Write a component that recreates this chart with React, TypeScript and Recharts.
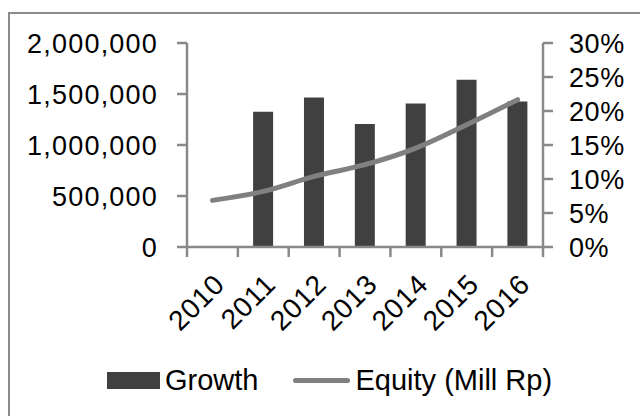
import { ComposedChart, Bar, Line, XAxis, YAxis, Legend } from 'recharts';

// Years on the category axis
const years = ['2010', '2011', '2012', '2013', '2014', '2015', '2016'];
// Growth (%) - bars, right axis
const growthPct = [null, 19.9, 22.0, 18.1, 21.1, 24.6, 21.4];
// Equity (Mill Rp) - line, left axis
const equityMillRp = [457000, 545000, 692000, 807000, 970000, 1199000, 1444000];

const leftTicks = [0, 500000, 1000000, 1500000, 2000000];
const rightTicks = [0, 5, 10, 15, 20, 25, 30];

const data = years.map((year, i) => ({
  year,
  growth: growthPct[i],
  equity: equityMillRp[i],
}));

const FONT = '"Liberation Sans", Arial, Helvetica, sans-serif';
const AXIS_GRAY = '#898989';
const BAR_COLOR = '#404040';
const LINE_COLOR = '#808080';

// Excel-style category ticks: marks sit between the years, labels turned 45 degrees
const YearTick = (props: any) => {
  const { x, y, payload, index, visibleTicksCount } = props;
  const half = typeof payload?.offset === 'number' && payload.offset > 0 ? payload.offset : 25.5;
  const ax = x + 14;
  const ay = y + 29;
  return (
    <g>
      <line x1={x - half} x2={x - half} y1={y - 10} y2={y} stroke={AXIS_GRAY} strokeWidth={2.5} />
      {index === visibleTicksCount - 1 && (
        <line x1={x + half} x2={x + half} y1={y - 10} y2={y} stroke={AXIS_GRAY} strokeWidth={2.5} />
      )}
      <text
        x={ax}
        y={ay}
        transform={`rotate(-45, ${ax}, ${ay})`}
        textAnchor="end"
        fill="#000"
        fontSize={28}
        letterSpacing={0.8}
        fontFamily={FONT}
      >
        {payload.value}
      </text>
    </g>
  );
};

const renderLegend = () => (
  <div
    style={{
      display: 'flex',
      alignItems: 'center',
      fontFamily: FONT,
      fontSize: 29,
      color: '#000',
      whiteSpace: 'nowrap',
    }}
  >
    <span style={{ display: 'inline-block', width: 53, height: 17, background: BAR_COLOR }} />
    <span style={{ marginLeft: 5 }}>Growth</span>
    <span
      style={{
        display: 'inline-block',
        width: 57,
        height: 5,
        borderRadius: 3,
        background: LINE_COLOR,
        marginLeft: 35,
      }}
    />
    <span style={{ marginLeft: 5 }}>Equity (Mill Rp)</span>
  </div>
);

export default function App() {
  return (
    <div style={{ position: 'absolute', left: 0, top: 0, width: 640, height: 416, background: '#fff' }}>
      <div
        style={{
          position: 'absolute',
          left: 8,
          top: 12,
          right: 0,
          bottom: 0,
          borderTop: '2px solid #8c8c8c',
          borderLeft: '2px solid #8c8c8c',
        }}
      />
      <div style={{ position: 'absolute', left: 0, top: 0 }}>
        <ComposedChart
          width={640}
          height={416}
          data={data}
          margin={{ top: 43, right: 0, bottom: 69, left: 0 }}
          barCategoryGap="30%"
        >
          <XAxis
            dataKey="year"
            tick={<YearTick />}
            tickLine={false}
            tickSize={10}
            tickMargin={0}
            interval={0}
            height={100}
            axisLine={{ stroke: AXIS_GRAY, strokeWidth: 2.5 }}
          />
          <YAxis
            yAxisId="left"
            orientation="left"
            width={187}
            domain={[0, 2000000]}
            ticks={leftTicks}
            interval={0}
            tickSize={10}
            tickMargin={19}
            tickFormatter={(v: number) => v.toLocaleString('en-US')}
            tick={{ fill: '#000', fontSize: 27, fontFamily: FONT, letterSpacing: 1.2 }}
            axisLine={{ stroke: AXIS_GRAY, strokeWidth: 2.5 }}
            tickLine={{ stroke: AXIS_GRAY, strokeWidth: 2.5 }}
          />
          <YAxis
            yAxisId="right"
            orientation="right"
            width={97}
            domain={[0, 30]}
            ticks={rightTicks}
            interval={0}
            tickSize={10}
            tickMargin={16}
            tickFormatter={(v: number) => `${v}%`}
            tick={{ fill: '#000', fontSize: 27, fontFamily: FONT, letterSpacing: 0.6 }}
            axisLine={{ stroke: AXIS_GRAY, strokeWidth: 2.5 }}
            tickLine={{ stroke: AXIS_GRAY, strokeWidth: 2.5 }}
          />
          <Bar
            yAxisId="right"
            dataKey="growth"
            name="Growth"
            fill={BAR_COLOR}
            isAnimationActive={false}
          />
          <Line
            yAxisId="left"
            type="monotone"
            dataKey="equity"
            name="Equity (Mill Rp)"
            stroke={LINE_COLOR}
            strokeWidth={5}
            strokeLinecap="round"
            dot={false}
            activeDot={false}
            isAnimationActive={false}
          />
          <Legend
            layout="horizontal"
            verticalAlign="middle"
            align="center"
            content={renderLegend}
            wrapperStyle={{ left: 107, top: 364, width: 'auto' }}
          />
        </ComposedChart>
      </div>
    </div>
  );
}
